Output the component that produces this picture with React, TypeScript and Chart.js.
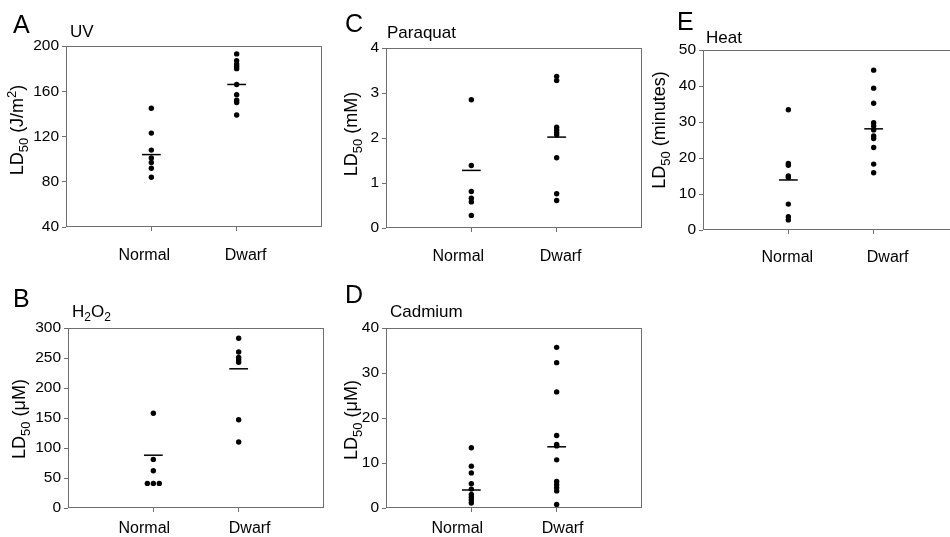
import React, { useEffect, useRef } from 'react';
import { Chart, registerables } from 'chart.js';

Chart.register(...registerables);

const categories = ['Normal', 'Dwarf'];

// Panel A: UV
const uvNormal = [145, 123, 108, 101, 97, 92, 84];
const uvDwarf = [193, 187, 184, 182, 180, 166, 157, 152, 150, 139];
const uvMeans = [104, 166];
const uvTicks = [40, 80, 120, 160, 200];

// Panel B: H2O2
const h2o2Normal = [158, 81, 62, 41, 41, 41];
const h2o2NormalJitter = [0, 0, 0, -0.07, 0, 0.07];
const h2o2Dwarf = [283, 260, 251, 247, 243, 147, 110];
const h2o2Means = [88, 232];
const h2o2Ticks = [0, 50, 100, 150, 200, 250, 300];

// Panel C: Paraquat
const paraquatNormal = [2.85, 1.39, 0.81, 0.66, 0.58, 0.28];
const paraquatDwarf = [3.37, 3.28, 2.24, 2.18, 2.12, 2.07, 1.56, 0.76, 0.61];
const paraquatMeans = [1.28, 2.02];
const paraquatTicks = [0, 1, 2, 3, 4];

// Panel D: Cadmium
const cadmiumNormal = [13.4, 9.3, 7.8, 5.4, 4.2, 3.0, 2.4, 1.8, 1.1];
const cadmiumDwarf = [35.7, 32.3, 25.8, 16.1, 14.1, 13.8, 10.7, 5.9, 5.2, 4.5, 3.8, 0.8];
const cadmiumMeans = [4.0, 13.6];
const cadmiumTicks = [0, 10, 20, 30, 40];

// Panel E: Heat
const heatNormal = [33.4, 18.5, 18.0, 15.0, 14.6, 7.2, 3.7, 2.8];
const heatDwarf = [44.4, 39.4, 35.2, 29.8, 28.9, 27.8, 26.1, 25.4, 22.9, 18.3, 15.9];
const heatMeans = [13.9, 28.1];
const heatTicks = [0, 10, 20, 30, 40, 50];

const FONT = '"Liberation Sans", Arial, Helvetica, sans-serif';

type Seg = { t: string; sub?: boolean; sup?: boolean };

interface PanelSpec {
  letter: string;
  title: Seg[];
  yTitle: Seg[];
  normal: number[];
  dwarf: number[];
  normalJitter?: number[];
  means: number[];
  ticks: number[];
  box: { L: number; T: number; W: number; H: number };
  letterOff: [number, number];
  titleOff: [number, number];
  yTitleOff: [number, number];
  labelShift: [number, number];
  labelGap: number;
}

const panels: PanelSpec[] = [
  {
    letter: 'A',
    title: [{ t: 'UV' }],
    yTitle: [{ t: 'LD' }, { t: '50', sub: true }, { t: ' (J/m' }, { t: '2', sup: true }, { t: ')' }],
    normal: uvNormal, dwarf: uvDwarf, means: uvMeans, ticks: uvTicks,
    box: { L: 66, T: 46, W: 256, H: 181 },
    letterOff: [-53, -13], titleOff: [4, -9], yTitleOff: [-43, 84],
    labelShift: [-7, 9], labelGap: 33,
  },
  {
    letter: 'B',
    title: [{ t: 'H' }, { t: '2', sub: true }, { t: 'O' }, { t: '2', sub: true }],
    yTitle: [{ t: 'LD' }, { t: '50', sub: true }, { t: ' (\u03BCM)' }],
    normal: h2o2Normal, dwarf: h2o2Dwarf, normalJitter: h2o2NormalJitter, means: h2o2Means, ticks: h2o2Ticks,
    box: { L: 68, T: 328, W: 256, H: 180 },
    letterOff: [-55, -21], titleOff: [4, -11], yTitleOff: [-43, 91],
    labelShift: [-9, 11], labelGap: 25,
  },
  {
    letter: 'C',
    title: [{ t: 'Paraquat' }],
    yTitle: [{ t: 'LD' }, { t: '50', sub: true }, { t: ' (mM)' }],
    normal: paraquatNormal, dwarf: paraquatDwarf, means: paraquatMeans, ticks: paraquatTicks,
    box: { L: 386, T: 48, W: 256, H: 180 },
    letterOff: [-41, -16], titleOff: [1, -10], yTitleOff: [-29, 86],
    labelShift: [-13, 4], labelGap: 33,
  },
  {
    letter: 'D',
    title: [{ t: 'Cadmium' }],
    yTitle: [{ t: 'LD' }, { t: '50', sub: true }, { t: ' (\u03BCM)' }],
    normal: cadmiumNormal, dwarf: cadmiumDwarf, means: cadmiumMeans, ticks: cadmiumTicks,
    box: { L: 386, T: 328, W: 256, H: 180 },
    letterOff: [-41, -25], titleOff: [4, -11], yTitleOff: [-29, 92],
    labelShift: [-14, 6], labelGap: 25,
  },
  {
    letter: 'E',
    title: [{ t: 'Heat' }],
    yTitle: [{ t: 'LD' }, { t: '50', sub: true }, { t: ' (minutes)' }],
    normal: heatNormal, dwarf: heatDwarf, means: heatMeans, ticks: heatTicks,
    box: { L: 703, T: 50, W: 256, H: 180 },
    letterOff: [-26, -20], titleOff: [3, -7], yTitleOff: [-38, 80],
    labelShift: [-1, 14], labelGap: 32,
  },
];

const ML = 70; // canvas margin left (y axis width)
const MT = 50; // canvas margin top
const MR = 10;
const MB = 50; // x axis height

function segFont(s: Seg, base: number) {
  const size = s.sub || s.sup ? Math.round(base * 0.72) : base;
  return `${size}px ${FONT}`;
}

function drawSegs(ctx: CanvasRenderingContext2D, segs: Seg[], x: number, y: number, base: number, center: boolean) {
  let total = 0;
  for (const s of segs) {
    ctx.font = segFont(s, base);
    total += ctx.measureText(s.t).width;
  }
  let cx = center ? x - total / 2 : x;
  for (const s of segs) {
    ctx.font = segFont(s, base);
    const dy = s.sub ? base * 0.25 : s.sup ? -base * 0.4 : 0;
    ctx.fillText(s.t, cx, y + dy);
    cx += ctx.measureText(s.t).width;
  }
}

function PanelChart({ spec }: { spec: PanelSpec }) {
  const ref = useRef<HTMLCanvasElement | null>(null);
  const cw = spec.box.W + ML + MR;
  const ch = spec.box.H + MT + MB;

  useEffect(() => {
    if (!ref.current) return;
    const jit = spec.normalJitter || [];
    const half = 0.11;
    const decor = {
      id: 'decor',
      beforeDatasetsDraw(chart: any) {
        const { ctx, chartArea } = chart;
        ctx.save();
        ctx.strokeStyle = '#6f6f6f';
        ctx.lineWidth = 1;
        const l = Math.round(chartArea.left) + 0.5;
        const t = Math.round(chartArea.top) + 0.5;
        const r = Math.round(chartArea.right) - 0.5;
        const b = Math.round(chartArea.bottom) - 0.5;
        ctx.strokeRect(l, t, r - l, b - t);
        ctx.restore();
      },
      afterDraw(chart: any) {
        const { ctx, chartArea } = chart;
        const L = chartArea.left;
        const T = chartArea.top;
        const xs = chart.scales.x;
        ctx.save();
        ctx.fillStyle = '#000';
        ctx.textBaseline = 'alphabetic';
        // category labels
        ctx.textAlign = 'center';
        ctx.font = `16px ${FONT}`;
        categories.forEach((c, i) => {
          const px = xs.getPixelForValue(i + 1) + spec.labelShift[i];
          ctx.fillText(c, px, chartArea.bottom + spec.labelGap);
        });
        ctx.textAlign = 'left';
        ctx.font = `25px ${FONT}`;
        ctx.fillText(spec.letter, L + spec.letterOff[0], T + spec.letterOff[1]);
        drawSegs(ctx, spec.title, L + spec.titleOff[0], T + spec.titleOff[1], 17, false);
        ctx.translate(L + spec.yTitleOff[0], T + spec.yTitleOff[1]);
        ctx.rotate(-Math.PI / 2);
        drawSegs(ctx, spec.yTitle, 0, 0, 18, true);
        ctx.restore();
      },
    };

    const pointStyle = {
      backgroundColor: '#000',
      borderColor: '#000',
      pointRadius: 2.7,
      pointBorderWidth: 0,
      showLine: false,
    };
    const lineStyle = {
      borderColor: '#000',
      backgroundColor: '#000',
      borderWidth: 1.5,
      pointRadius: 0,
      showLine: true,
    };

    const chart = new Chart(ref.current, {
      type: 'scatter',
      data: {
        datasets: [
          { ...pointStyle, data: spec.normal.map((v, i) => ({ x: 1 + (jit[i] || 0), y: v })) },
          { ...pointStyle, data: spec.dwarf.map((v) => ({ x: 2, y: v })) },
          { ...lineStyle, data: [{ x: 1 - half, y: spec.means[0] }, { x: 1 + half, y: spec.means[0] }] },
          { ...lineStyle, data: [{ x: 2 - half, y: spec.means[1] }, { x: 2 + half, y: spec.means[1] }] },
        ],
      } as any,
      options: {
        animation: false,
        responsive: false,
        maintainAspectRatio: false,
        events: [],
        layout: { padding: { left: 0, top: MT, right: MR, bottom: 0 } },
        plugins: { legend: { display: false }, tooltip: { enabled: false } },
        scales: {
          x: {
            type: 'linear',
            min: 0,
            max: 3,
            afterBuildTicks: (s: any) => {
              s.ticks = [{ value: 1 }, { value: 2 }];
            },
            afterFit: (s: any) => {
              s.height = MB;
            },
            ticks: { display: false },
            grid: { drawOnChartArea: false, drawTicks: true, tickLength: 4, color: '#6f6f6f' },
            border: { display: false },
          },
          y: {
            type: 'linear',
            min: spec.ticks[0],
            max: spec.ticks[spec.ticks.length - 1],
            afterBuildTicks: (s: any) => {
              s.ticks = spec.ticks.map((v) => ({ value: v }));
            },
            afterFit: (s: any) => {
              s.width = ML;
            },
            ticks: {
              font: { family: FONT, size: 15.5 },
              color: '#000',
              padding: 3,
              autoSkip: false,
            },
            grid: { drawOnChartArea: false, drawTicks: true, tickLength: 4, color: '#6f6f6f' },
            border: { display: false },
          },
        },
      } as any,
      plugins: [decor],
    });
    return () => chart.destroy();
  }, [spec]);

  return (
    <canvas
      ref={ref}
      width={cw}
      height={ch}
      style={{
        position: 'absolute',
        left: spec.box.L - ML,
        top: spec.box.T - MT,
        width: cw,
        height: ch,
      }}
    />
  );
}

export default function App() {
  return (
    <div
      style={{
        position: 'absolute',
        left: 0,
        top: 0,
        width: 950,
        height: 537,
        overflow: 'hidden',
        background: '#fff',
      }}
    >
      {panels.map((p) => (
        <PanelChart key={p.letter} spec={p} />
      ))}
    </div>
  );
}
